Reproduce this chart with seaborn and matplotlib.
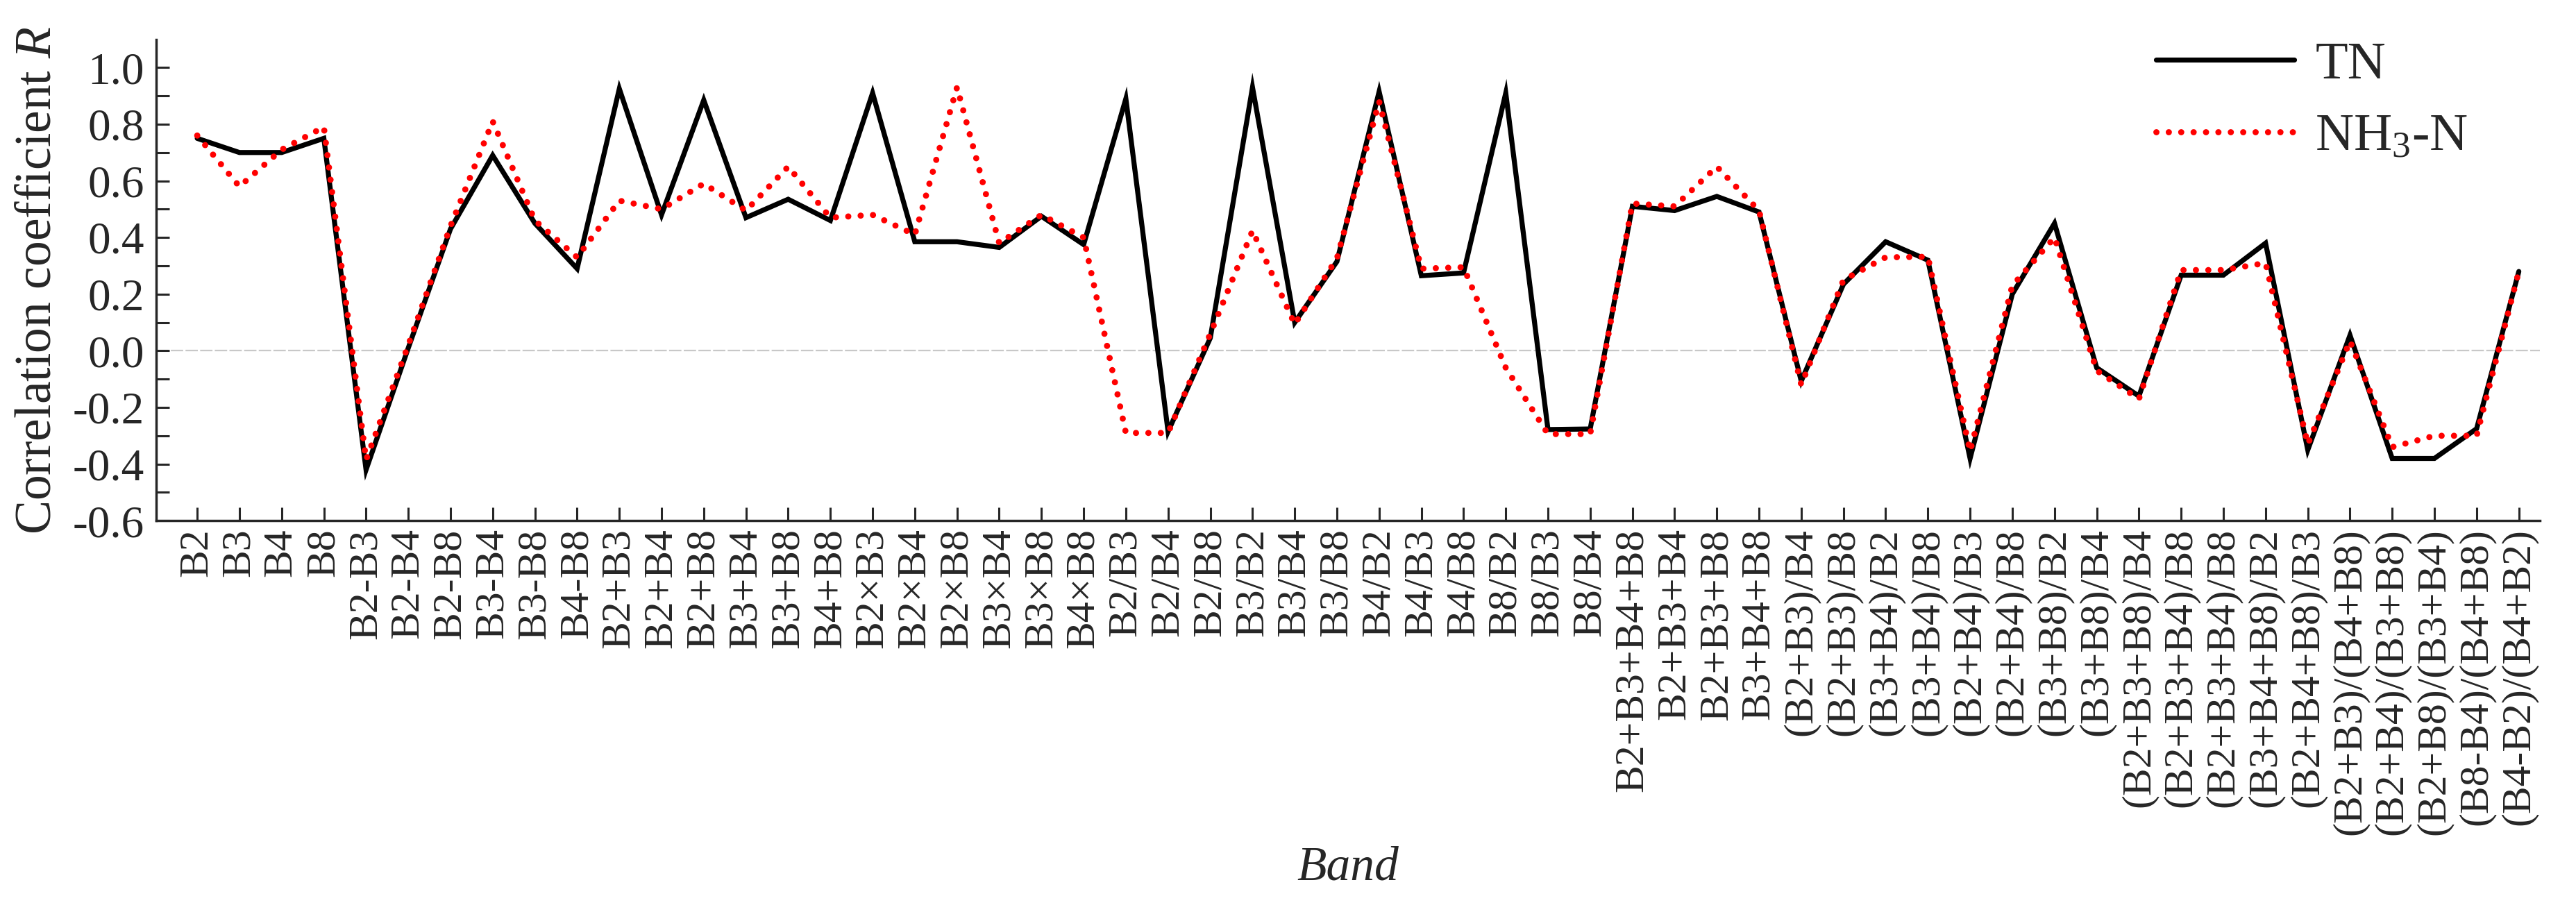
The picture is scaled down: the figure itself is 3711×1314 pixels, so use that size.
import numpy as np
import pandas as pd
import matplotlib
matplotlib.use("Agg")
import matplotlib.pyplot as plt
import seaborn as sns

# Bandes / combinaisons (axe x)
bands = [
    "B2", "B3", "B4", "B8",
    "B2-B3", "B2-B4", "B2-B8", "B3-B4", "B3-B8", "B4-B8",
    "B2+B3", "B2+B4", "B2+B8", "B3+B4", "B3+B8", "B4+B8",
    "B2×B3", "B2×B4", "B2×B8", "B3×B4", "B3×B8", "B4×B8",
    "B2/B3", "B2/B4", "B2/B8", "B3/B2", "B3/B4", "B3/B8",
    "B4/B2", "B4/B3", "B4/B8", "B8/B2", "B8/B3", "B8/B4",
    "B2+B3+B4+B8", "B2+B3+B4", "B2+B3+B8", "B3+B4+B8",
    "(B2+B3)/B4", "(B2+B3)/B8", "(B3+B4)/B2", "(B3+B4)/B8",
    "(B2+B4)/B3", "(B2+B4)/B8", "(B3+B8)/B2", "(B3+B8)/B4",
    "(B2+B3+B8)/B4", "(B2+B3+B4)/B8", "(B2+B3+B4)/B8",
    "(B3+B4+B8)/B2", "(B2+B4+B8)/B3",
    "(B2+B3)/(B4+B8)", "(B2+B4)/(B3+B8)", "(B2+B8)/(B3+B4)",
    "(B8-B4)/(B4+B8)", "(B4-B2)/(B4+B2)",
]

r_tn = [
    0.75, 0.70, 0.70, 0.75,
    -0.42, 0.01, 0.43, 0.69, 0.45, 0.29,
    0.925, 0.48, 0.885, 0.47, 0.535, 0.46,
    0.91, 0.385, 0.385, 0.365, 0.475, 0.375,
    0.89, -0.285, 0.045, 0.93, 0.10, 0.315,
    0.915, 0.265, 0.275, 0.91, -0.278, -0.276,
    0.51, 0.495, 0.545, 0.49,
    -0.107, 0.235, 0.385, 0.32,
    -0.38, 0.20, 0.45, -0.06,
    -0.16, 0.267, 0.267,
    0.38, -0.35,
    0.055, -0.38, -0.38,
    -0.275, 0.28,
]

r_nh3 = [
    0.76, 0.58, 0.71, 0.79,
    -0.385, 0.02, 0.44, 0.81, 0.46, 0.33,
    0.53, 0.50, 0.59, 0.495, 0.65, 0.47,
    0.48, 0.41, 0.93, 0.38, 0.48, 0.40,
    -0.29, -0.29, 0.06, 0.424, 0.094, 0.326,
    0.88, 0.29, 0.295, -0.06, -0.294, -0.294,
    0.52, 0.51, 0.65, 0.495,
    -0.12, 0.25, 0.33, 0.332,
    -0.355, 0.23, 0.40, -0.07,
    -0.17, 0.285, 0.285,
    0.31, -0.33,
    0.035, -0.34, -0.30,
    -0.30, 0.28,
]

sns.set_style("ticks")
plt.rcParams['font.family'] = ['Liberation Serif', 'DejaVu Serif']
plt.rcParams['mathtext.fontset'] = 'custom'
plt.rcParams['mathtext.rm'] = 'Liberation Serif'
plt.rcParams['mathtext.it'] = 'Liberation Serif:italic'

df = pd.DataFrame({'idx': np.arange(len(bands)), 'TN': r_tn, 'NH3': r_nh3})

fig = plt.figure(figsize=(37.11, 13.14), dpi=100)
ax = fig.add_axes([0.0605, 0.429, 0.9255, 0.528])

ax.axhline(0, color='#c8c8c8', lw=1.6, ls=(0, (8, 1.5)), zorder=0)

sns.lineplot(data=df, x='idx', y='TN', ax=ax, color='black', lw=5.2,
             label='TN', solid_joinstyle='miter')
sns.lineplot(data=df, x='idx', y='NH3', ax=ax, color='#ff0000', lw=6.4,
             ls=(0, (0.01, 2.0)), dash_capstyle='round', label='NH$_3$-N')

ax.set_xlim(-0.98, 55.5)
ax.set_ylim(-0.6, 1.1)
ax.set_xticks(df['idx'])
ax.set_xticklabels(bands, rotation=90, fontsize=43)
ax.set_yticks(np.arange(-0.6, 1.01, 0.2))
ax.set_yticks(np.arange(-0.5, 1.1, 0.2), minor=True)
ax.set_yticklabels([f"{v:.1f}" for v in np.arange(-0.6, 1.01, 0.2)], fontsize=47)

ax.tick_params(axis='both', which='both', direction='in', length=14, width=2.2)
ax.tick_params(axis='x', pad=8)
ax.tick_params(axis='y', pad=12)
for s in ['top', 'right']:
    ax.spines[s].set_visible(False)
for s in ['left', 'bottom']:
    ax.spines[s].set_linewidth(2.5)

ax.set_ylabel('Correlation coefficient $R$', fontsize=53)
ax.yaxis.set_label_coords(-0.0395, 0.5)
ax.set_xlabel('Band', fontsize=50, style='italic')
ax.xaxis.set_label_coords(0.5, -0.675)

leg = ax.legend(loc='upper left', bbox_to_anchor=(0.837, 0.955),
                bbox_transform=fig.transFigure, frameon=False, fontsize=55,
                handlelength=2.6, handletextpad=0.4, labelspacing=0.45,
                borderpad=0, borderaxespad=0)

fig.savefig('out.png', dpi=100)
